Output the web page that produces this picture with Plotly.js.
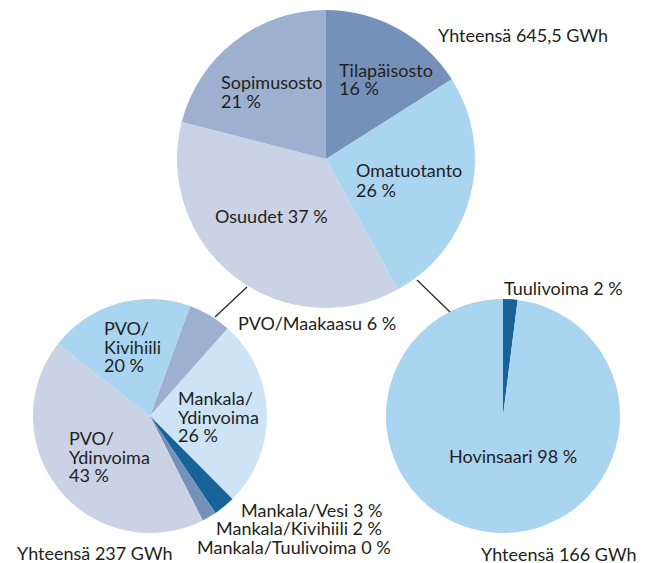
<!DOCTYPE html>
<html>
<head>
<meta charset="utf-8">
<script src="https://cdn.plot.ly/plotly-3.0.1.min.js"></script>
<style>html,body{margin:0;padding:0;background:#fff;}#chart{width:645px;height:563px;}</style>
</head>
<body>
<div id="chart"></div>
<script>
// ---- data ----
var topLabels = ['Tilapäisosto', 'Omatuotanto', 'Osuudet', 'Sopimusosto'];
var topValues = [16, 26, 37, 21];
var topTotal = 'Yhteensä 645,5 GWh';

var leftLabels = ['PVO/Maakaasu', 'Mankala/Ydinvoima', 'Mankala/Vesi', 'Mankala/Kivihiili', 'Mankala/Tuulivoima', 'PVO/Ydinvoima', 'PVO/Kivihiili'];
var leftValues = [6, 26, 3, 2, 0, 43, 20];
var leftTotal = 'Yhteensä 237 GWh';

var rightLabels = ['Tuulivoima', 'Hovinsaari'];
var rightValues = [2, 98];
var rightTotal = 'Yhteensä 166 GWh';

// ---- styles ----
var W = 645, H = 563;
function px(x) { return x / W; }
function py(y) { return 1 - y / H; }
function dom(cx, cy, r) { return {x: [px(cx - r), px(cx + r)], y: [py(cy + r), py(cy - r)]}; }

var topColors = ['#7591ba', '#aad5f0', '#cad2e6', '#9db0cf'];
var leftColors = ['#9db0cf', '#cce4f6', '#176399', '#7591ba', '#7591ba', '#cad2e6', '#aad5f0'];
var rightColors = ['#176399', '#aad5f0'];

function pie(labels, values, colors, d, rot) {
  return {
    type: 'pie', labels: labels, values: values, sort: false, direction: 'clockwise',
    rotation: rot, textinfo: 'none', hoverinfo: 'none', domain: d,
    marker: {colors: colors, line: {width: 0}}, showlegend: false
  };
}

var traces = [
  pie(topLabels, topValues, topColors, dom(326, 159, 149), 0),
  pie(leftLabels, leftValues, leftColors, dom(150, 416, 117), 20),
  pie(rightLabels, rightValues, rightColors, dom(503, 416, 117), 0)
];

var font = {family: 'Lato, "Open Sans", sans-serif', size: 18, color: '#231f20'};
function ann(text, x, y, anchor) {
  return {text: text, x: px(x), y: py(y), xref: 'paper', yref: 'paper', showarrow: false,
    xanchor: anchor || 'left', yanchor: 'middle', font: font};
}
function pct(v) { return v + ' %'; }
function split(l) { var i = l.indexOf('/'); return [l.slice(0, i + 1), l.slice(i + 1)]; }

var annotations = [
  ann(topTotal, 436, 35),
  ann(topLabels[0], 337, 70), ann(pct(topValues[0]), 337, 88.5),
  ann(topLabels[1], 354, 170), ann(pct(topValues[1]), 354, 190),
  ann(topLabels[2] + ' ' + pct(topValues[2]), 213, 216),
  ann(topLabels[3], 219, 82), ann(pct(topValues[3]), 219, 101),

  ann(leftLabels[0] + ' ' + pct(leftValues[0]), 236, 323),
  ann(split(leftLabels[6])[0], 102, 328), ann(split(leftLabels[6])[1], 102, 347), ann(pct(leftValues[6]), 102, 365),
  ann(split(leftLabels[1])[0], 176, 398), ann(split(leftLabels[1])[1], 176, 417), ann(pct(leftValues[1]), 176, 435),
  ann(split(leftLabels[5])[0], 67, 438), ann(split(leftLabels[5])[1], 67, 457), ann(pct(leftValues[5]), 67, 475),
  ann(leftLabels[2] + ' ' + pct(leftValues[2]), 384, 510, 'right'),
  ann(leftLabels[3] + ' ' + pct(leftValues[3]), 384, 528, 'right'),
  ann(leftLabels[4] + ' ' + pct(leftValues[4]), 393, 547, 'right'),
  ann(leftTotal, 15, 553),

  ann(rightLabels[0] + ' ' + pct(rightValues[0]), 502, 288),
  ann(rightLabels[1] + ' ' + pct(rightValues[1]), 447, 456),
  ann(rightTotal, 479, 554)
];

var lineStyle = {color: '#231f20', width: 1.2};
var shapes = [
  {type: 'line', xref: 'paper', yref: 'paper', x0: px(247), y0: py(287), x1: px(215), y1: py(317), line: lineStyle},
  {type: 'line', xref: 'paper', yref: 'paper', x0: px(417), y0: py(280), x1: px(450), y1: py(312), line: lineStyle}
];

var layout = {
  width: W, height: H, margin: {l: 0, r: 0, t: 0, b: 0},
  paper_bgcolor: '#fff', plot_bgcolor: '#fff', showlegend: false,
  annotations: annotations, shapes: shapes
};

Plotly.newPlot('chart', traces, layout, {displayModeBar: false, staticPlot: true});
</script>
</body>
</html>
